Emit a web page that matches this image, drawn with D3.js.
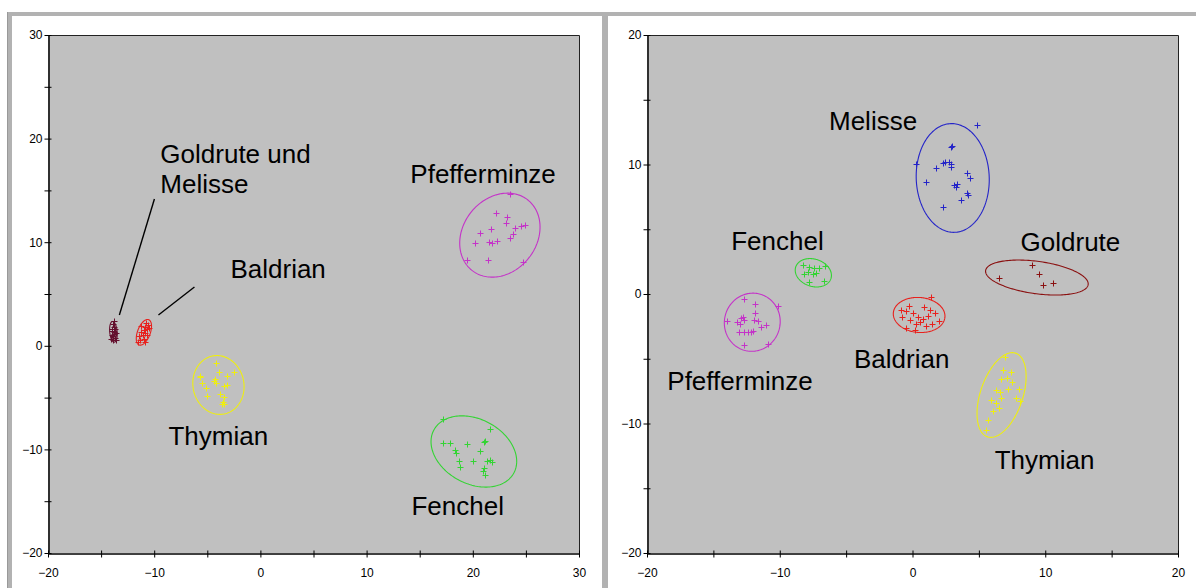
<!DOCTYPE html>
<html>
<head>
<meta charset="utf-8">
<script src="https://cdn.jsdelivr.net/npm/d3@7"></script>
<style>
  html, body { margin: 0; padding: 0; background: #ffffff; }
  svg { display: block; }
  text { font-family: Arial, "Liberation Sans", Helvetica, sans-serif; }
</style>
</head>
<body>
<svg id="chart" width="1196" height="588"></svg>
<script>
// ---------------------------------------------------------------
// Scores of the tea samples (two projections), one array per herb
// ---------------------------------------------------------------

// Left projection
const leftPfefferminze = [
  [23.5, 14.65], [22.2, 12.8], [23.2, 12.4], [23.1, 11.85], [24.0, 11.37],
  [24.5, 11.57], [24.9, 11.66], [21.7, 11.27], [20.7, 10.89], [23.8, 10.8],
  [20.2, 9.92], [21.5, 10.0], [21.8, 9.92], [22.3, 10.1], [23.5, 10.4],
  [19.5, 8.28], [21.4, 8.28], [24.7, 8.09]
];
const leftFenchel = [
  [17.2, -7.09], [21.66, -8.06], [17.2, -9.35], [17.82, -9.41], [19.46, -9.51],
  [21.03, -9.26], [21.19, -9.16], [18.36, -10.06], [18.46, -10.32], [20.65, -10.13],
  [18.67, -11.12], [20.03, -11.09], [21.35, -11.12], [21.66, -11.05], [21.82, -11.19],
  [18.83, -11.67], [21.03, -11.82], [20.97, -12.06], [21.19, -12.47]
];
const leftThymian = [
  [-4.14, -1.69], [-3.93, -2.5], [-5.65, -2.92], [-5.72, -3.04], [-3.14, -2.89],
  [-2.45, -2.56], [-4.4, -3.37], [-4.24, -3.23], [-4.14, -3.56], [-5.49, -3.62],
  [-3.14, -3.78], [-3.46, -3.88], [-5.08, -4.04], [-3.83, -4.65], [-5.02, -4.85],
  [-3.46, -4.91], [-3.51, -5.4], [-3.61, -5.65], [-3.39, -5.65]
];
const leftGoldruteMelisse = [
  [-13.9, 2.1], [-13.8, 1.8], [-13.7, 1.6], [-13.95, 1.4], [-13.8, 1.3],
  [-13.6, 1.2], [-14.0, 1.0], [-13.85, 0.9], [-13.7, 0.8], [-13.9, 0.6],
  [-14.1, 0.7], [-13.75, 1.1], [-13.6, 0.55], [-13.95, 1.65], [-13.8, 2.35]
];
const leftBaldrian = [
  [-10.8, 2.2], [-10.6, 2.0], [-10.9, 1.8], [-10.7, 1.6], [-11.0, 1.5],
  [-11.2, 1.3], [-10.9, 1.2], [-11.1, 1.0], [-11.4, 0.9], [-11.3, 0.6],
  [-11.5, 0.4], [-10.7, 1.0], [-11.0, 0.7], [-10.5, 1.7], [-11.2, 1.9], [-10.9, 0.4]
];

// Right projection
const rightMelisse = [
  [4.83, 13.05], [2.93, 11.33], [3.01, 11.43], [0.25, 10.04], [2.26, 10.09],
  [2.45, 10.22], [2.75, 10.22], [2.88, 10.02], [2.93, 9.83], [1.75, 9.71],
  [4.14, 9.37], [4.31, 8.93], [1.0, 8.67], [3.13, 8.42], [3.33, 8.49],
  [3.26, 8.24], [4.14, 7.82], [4.21, 7.64], [3.63, 7.26], [2.3, 6.69]
];
const rightGoldrute = [
  [8.97, 2.24], [6.51, 1.21], [9.52, 1.54], [9.85, 0.69], [10.6, 0.83]
];
const rightFenchel = [
  [-8.27, 2.24], [-7.77, 2.11], [-7.4, 1.98], [-7.27, 1.6], [-7.52, 1.54],
  [-7.89, 1.72], [-8.15, 1.54], [-7.02, 1.98], [-6.59, 2.16], [-6.69, 1.03],
  [-7.77, 0.95]
];
const rightPfefferminze = [
  [-12.66, -0.41], [-11.86, -0.77], [-10.15, -0.93], [-13.96, -2.08], [-13.21, -2.19],
  [-12.91, -1.88], [-12.78, -1.75], [-12.71, -2.01], [-12.96, -2.32], [-11.86, -1.44],
  [-11.91, -2.01], [-11.65, -2.06], [-11.41, -2.57], [-11.03, -2.39], [-13.04, -2.91],
  [-12.71, -2.96], [-12.41, -2.96], [-12.16, -2.91], [-12.03, -2.86], [-12.66, -3.94],
  [-10.9, -3.88]
];
const rightBaldrian = [
  [-0.9, -1.2], [-0.5, -1.3], [0.0, -1.5], [0.4, -1.8], [0.8, -1.9],
  [1.2, -1.7], [1.7, -1.5], [-0.2, -2.0], [0.3, -2.3], [0.6, -2.2],
  [-0.8, -1.8], [-0.3, -0.9], [1.3, -1.2], [2.0, -2.1], [-0.5, -2.6],
  [0.2, -2.8], [1.0, -2.5], [1.5, -2.3], [0.9, -1.0], [1.4, -0.2]
];
const rightThymian = [
  [7.0, -4.9], [6.85, -5.9], [7.4, -6.0], [6.7, -6.6], [7.1, -6.5],
  [7.5, -6.8], [6.3, -7.4], [6.6, -7.6], [7.2, -7.3], [8.0, -7.3],
  [5.9, -8.2], [6.3, -8.4], [6.7, -8.0], [7.8, -8.0], [5.7, -9.7],
  [6.1, -9.0], [6.5, -8.8], [8.1, -8.3], [5.5, -10.5]
];

// Confidence ellipses: [centreX, centreY, semiAxisA, semiAxisB, angleDeg]
const leftEllipses = {
  Pfefferminze: [22.55, 10.68, 4.3, 3.5, 55],
  Fenchel: [20.1, -10.2, 4.3, 3.1, -30],
  Thymian: [-3.95, -3.78, 2.85, 2.4, 100],
  GoldruteMelisse: [-13.84, 1.35, 1.0, 0.35, 95],
  Baldrian: [-10.97, 1.3, 1.3, 0.6, 70]
};
const rightEllipses = {
  Melisse: [3.03, 8.96, 4.2, 2.75, 92],
  Goldrute: [9.37, 1.27, 3.9, 1.25, -8],
  Fenchel: [-7.47, 1.64, 1.4, 1.05, -20],
  Pfefferminze: [-12.07, -2.18, 2.25, 2.1, 80],
  Baldrian: [0.5, -1.62, 1.95, 1.35, -5],
  Thymian: [6.71, -7.8, 3.4, 1.6, 72]
};

// Axis ranges and tick values
const leftXDomain = [-20, 30];
const leftYDomain = [-20, 30];
const rightXDomain = [-20, 20];
const rightYDomain = [-20, 20];
const leftMajorTicks = [-20, -10, 0, 10, 20, 30];
const leftMinorTicks = [-15, -5, 5, 15, 25];
const rightMajorTicks = [-20, -10, 0, 10, 20];
const rightMinorTicks = [-15, -5, 5, 15];

// Cluster labels: [text lines, x, y] in data units (baseline of first line)
const leftLabels = [
  [["Goldrute und", "Melisse"], -9.42, 17.64],
  [["Pfefferminze"], 14.12, 15.7],
  [["Baldrian"], -2.82, 6.54],
  [["Thymian"], -8.66, -9.57],
  [["Fenchel"], 14.22, -16.33]
];
const rightLabels = [
  [["Melisse"], -6.29, 12.66],
  [["Fenchel"], -13.66, 3.4],
  [["Goldrute"], 8.14, 3.3],
  [["Pfefferminze"], -18.47, -7.41],
  [["Baldrian"], -4.41, -5.71],
  [["Thymian"], 6.19, -13.51]
];
// Leader lines from label to cluster: [x1, y1, x2, y2] in data units
const leftLeaders = [
  [-9.98, 14.17, -13.28, 2.97],
  [-6.21, 5.68, -9.6, 2.97]
];

// ---------------------------------------------------------------
// Colours per herb
// ---------------------------------------------------------------
const herbColor = {
  Pfefferminze: "#c433c8",
  Fenchel: "#33d433",
  Thymian: "#eeee10",
  Baldrian: "#e8201c",
  Goldrute: "#8a1010",
  Melisse: "#2424c8",
  GoldruteMelisse: "#64102e"
};

const svg = d3.select("#chart");

// Window frame: grey bars along the top, left edge, between the panels
const frame = svg.append("g").attr("fill", "#b2b2b2");
frame.append("rect").attr("x", 7).attr("y", 12).attr("width", 1189).attr("height", 4);
frame.append("rect").attr("x", 7).attr("y", 12).attr("width", 5).attr("height", 576);
frame.append("rect").attr("x", 602).attr("y", 12).attr("width", 6).attr("height", 576);
frame.append("rect").attr("x", 7).attr("y", 12).attr("width", 1).attr("height", 576).attr("fill", "#999");

function ellipsePath(e, xs, ys) {
  const [cx, cy, a, b, deg] = e;
  const phi = deg * Math.PI / 180;
  const pts = d3.range(0, 2 * Math.PI, Math.PI / 90).map(t => {
    const u = a * Math.cos(t), v = b * Math.sin(t);
    return [xs(cx + u * Math.cos(phi) - v * Math.sin(phi)),
            ys(cy + u * Math.sin(phi) + v * Math.cos(phi))];
  });
  return d3.line().curve(d3.curveLinearClosed)(pts);
}

function drawPanel(cfg) {
  const x = d3.scaleLinear().domain(cfg.xDomain).range([cfg.left, cfg.right]);
  const y = d3.scaleLinear().domain(cfg.yDomain).range([cfg.bottom, cfg.top]);
  const g = svg.append("g");

  // plot background and frame
  g.append("rect")
    .attr("x", cfg.left).attr("y", cfg.top)
    .attr("width", cfg.right - cfg.left).attr("height", cfg.bottom - cfg.top)
    .attr("fill", "#c0c0c0");
  g.append("path")
    .attr("d", `M${cfg.left + 0.5},${cfg.top + 0.5}H${cfg.right + 0.5}V${cfg.bottom + 0.5}`)
    .attr("fill", "none").attr("stroke", "#222").attr("stroke-width", 1);

  // axes: major ticks with labels, minor ticks without
  const styleAxis = (sel, horizontal) => {
    sel.select(".domain").attr("stroke", "#000");
    sel.selectAll(".tick line").attr("stroke", "#000")
      .attr(horizontal ? "y1" : "x1", horizontal ? -3 : 3);
    sel.selectAll("text").attr("fill", "#000").style("font-size", "12px");
  };

  const xAxis = g.append("g")
    .attr("transform", `translate(0,${cfg.bottom + 0.5})`)
    .call(d3.axisBottom(x).tickValues(cfg.major).tickSize(4).tickSizeOuter(0)
      .tickFormat(d3.format("d")));
  styleAxis(xAxis, true);
  xAxis.selectAll("text").attr("y", 23).attr("dy", 0);

  const xMinor = g.append("g")
    .attr("transform", `translate(0,${cfg.bottom + 0.5})`)
    .call(d3.axisBottom(x).tickValues(cfg.minor).tickSize(4).tickSizeOuter(0).tickFormat(""));
  styleAxis(xMinor, true);

  const yAxis = g.append("g")
    .attr("transform", `translate(${cfg.left + 0.5},0)`)
    .call(d3.axisLeft(y).tickValues(cfg.major).tickSize(4).tickSizeOuter(0)
      .tickFormat(d3.format("d")).tickPadding(3));
  styleAxis(yAxis, false);
  yAxis.selectAll("text").attr("x", -6);

  const yMinor = g.append("g")
    .attr("transform", `translate(${cfg.left + 0.5},0)`)
    .call(d3.axisLeft(y).tickValues(cfg.minor).tickSize(4).tickSizeOuter(0).tickFormat(""));
  styleAxis(yMinor, false);

  // clusters: ellipse and "+" markers
  cfg.clusters.forEach(c => {
    const color = herbColor[c.herb];
    g.append("path")
      .attr("d", ellipsePath(c.ellipse, x, y))
      .attr("fill", "none").attr("stroke", color).attr("stroke-width", 1.1);
    g.append("g").selectAll("path").data(c.points).join("path")
      .attr("transform", d => `translate(${Math.round(x(d[0])) + 0.5},${Math.round(y(d[1])) + 0.5})`)
      .attr("d", "M-3,0H3M0,-3V3")
      .attr("stroke", color).attr("stroke-width", 1).attr("fill", "none");
  });

  // leader lines
  g.selectAll("line.leader").data(cfg.leaders || []).join("line")
    .attr("class", "leader")
    .attr("x1", d => x(d[0])).attr("y1", d => y(d[1]))
    .attr("x2", d => x(d[2])).attr("y2", d => y(d[3]))
    .attr("stroke", "#000").attr("stroke-width", 1.4);

  // labels
  cfg.labels.forEach(([lines, lx, ly]) => {
    const t = g.append("text")
      .attr("x", x(lx)).attr("y", y(ly))
      .attr("fill", "#000").style("font-size", "26px");
    lines.forEach((s, i) => {
      t.append("tspan").attr("x", x(lx)).attr("dy", i === 0 ? 0 : 30).text(s);
    });
  });
}

drawPanel({
  left: 48, right: 579, top: 35, bottom: 553,
  xDomain: leftXDomain, yDomain: leftYDomain,
  major: leftMajorTicks, minor: leftMinorTicks,
  clusters: [
    { herb: "Pfefferminze", points: leftPfefferminze, ellipse: leftEllipses.Pfefferminze },
    { herb: "Fenchel", points: leftFenchel, ellipse: leftEllipses.Fenchel },
    { herb: "Thymian", points: leftThymian, ellipse: leftEllipses.Thymian },
    { herb: "GoldruteMelisse", points: leftGoldruteMelisse, ellipse: leftEllipses.GoldruteMelisse },
    { herb: "Baldrian", points: leftBaldrian, ellipse: leftEllipses.Baldrian }
  ],
  labels: leftLabels,
  leaders: leftLeaders
});

drawPanel({
  left: 647, right: 1178, top: 35, bottom: 553,
  xDomain: rightXDomain, yDomain: rightYDomain,
  major: rightMajorTicks, minor: rightMinorTicks,
  clusters: [
    { herb: "Melisse", points: rightMelisse, ellipse: rightEllipses.Melisse },
    { herb: "Goldrute", points: rightGoldrute, ellipse: rightEllipses.Goldrute },
    { herb: "Fenchel", points: rightFenchel, ellipse: rightEllipses.Fenchel },
    { herb: "Pfefferminze", points: rightPfefferminze, ellipse: rightEllipses.Pfefferminze },
    { herb: "Baldrian", points: rightBaldrian, ellipse: rightEllipses.Baldrian },
    { herb: "Thymian", points: rightThymian, ellipse: rightEllipses.Thymian }
  ],
  labels: rightLabels
});
</script>
</body>
</html>
